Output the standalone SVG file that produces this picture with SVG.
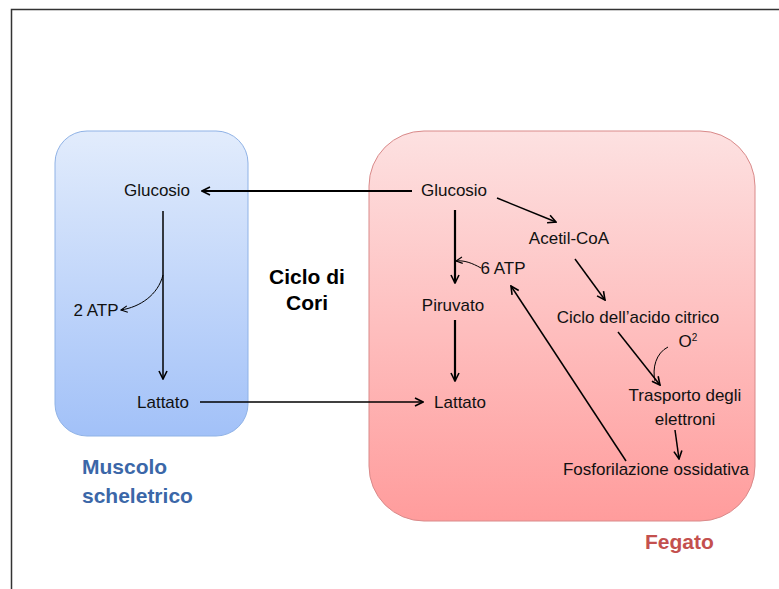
<svg xmlns="http://www.w3.org/2000/svg" width="779" height="589" viewBox="0 0 779 589">
<defs>
<linearGradient id="gBlue" x1="0" y1="0" x2="0" y2="1"><stop offset="0" stop-color="#e2ecfc"/><stop offset="1" stop-color="#a2c1f8"/></linearGradient>
<linearGradient id="gRed" x1="0" y1="0" x2="0" y2="1"><stop offset="0" stop-color="#fde1e1"/><stop offset="1" stop-color="#ff9c9c"/></linearGradient>
<marker id="ah" viewBox="0 0 10 10" refX="9" refY="5" markerWidth="10" markerHeight="10" markerUnits="userSpaceOnUse" orient="auto"><path d="M1,1 L9,5 L1,9" fill="none" stroke="#000" stroke-width="1.6"/></marker>
<marker id="ahs" viewBox="0 0 10 10" refX="9" refY="5" markerWidth="8" markerHeight="8" markerUnits="userSpaceOnUse" orient="auto"><path d="M1,1 L9,5 L1,9" fill="none" stroke="#000" stroke-width="1.4"/></marker>
</defs>
<style>
.t{font-family:"Liberation Sans",Arial,sans-serif;font-size:17px;fill:#111;text-anchor:middle}
.c{fill:none;stroke:#000;stroke-width:1.5}
.k{stroke-width:2.2}
.f{stroke-width:1}
.lbl{font-family:"Liberation Sans",Arial,sans-serif;font-weight:bold;font-size:21px}
</style>
<rect width="779" height="589" fill="#fff"/>
<path d="M11.5,589 V9.5 H779" fill="none" stroke="#333" stroke-width="1.5"/>
<g id="muscolo">
<rect x="55" y="131" width="193" height="305" rx="32" fill="url(#gBlue)" stroke="#8fb2e6" stroke-width="1"/>
</g>
<g id="fegato">
<rect x="369" y="131" width="386" height="390" rx="55" fill="url(#gRed)" stroke="#d98a8a" stroke-width="1"/>
</g>
<g id="connectors">
<line class="c k" x1="412" y1="191" x2="202" y2="191" marker-end="url(#ah)"/>
<line class="c" x1="163" y1="211" x2="163" y2="379" marker-end="url(#ah)"/>
<path class="c f" d="M163,275 C158,295 140,307 121,310" marker-end="url(#ahs)"/>
<line class="c" x1="200" y1="402" x2="423" y2="402" marker-end="url(#ah)"/>
<line class="c k" x1="455" y1="210" x2="455" y2="283" marker-end="url(#ah)"/>
<path class="c f" d="M481,268 C472,263 464,260 456,261" marker-end="url(#ahs)"/>
<line class="c k" x1="455" y1="320" x2="455" y2="381" marker-end="url(#ah)"/>
<line class="c" x1="497" y1="198" x2="556" y2="222" marker-end="url(#ah)"/>
<line class="c" x1="575" y1="259" x2="605" y2="300" marker-end="url(#ah)"/>
<line class="c" x1="618" y1="332" x2="660" y2="385" marker-end="url(#ah)"/>
<path class="c f" d="M668,347 C656,353 652,368 655,381"/>
<line class="c" x1="675" y1="430" x2="679" y2="459" marker-end="url(#ah)"/>
<line class="c" x1="626" y1="461" x2="511" y2="286" marker-end="url(#ah)"/>
</g>
<g id="n-glucosio-m"><text class="t" x="157" y="196">Glucosio</text></g>
<g id="n-2atp"><text class="t" x="96" y="316">2 ATP</text></g>
<g id="n-lattato-m"><text class="t" x="163" y="408">Lattato</text></g>
<g id="n-cori"><text class="lbl" x="307" y="284" text-anchor="middle" fill="#000" font-size="20">Ciclo di</text><text class="lbl" x="307" y="310" text-anchor="middle" fill="#000" font-size="20">Cori</text></g>
<g id="n-glucosio-f"><text class="t" x="454" y="196">Glucosio</text></g>
<g id="n-acetil"><text class="t" x="569" y="244">Acetil-CoA</text></g>
<g id="n-6atp"><text class="t" x="503" y="274">6 ATP</text></g>
<g id="n-piruvato"><text class="t" x="453" y="311">Piruvato</text></g>
<g id="n-ciclo"><text class="t" x="638" y="323">Ciclo dell’acido citrico</text></g>
<g id="n-o2"><text class="t" x="688" y="347">O<tspan font-size="10" dy="-6">2</tspan></text></g>
<g id="n-trasporto"><text class="t" x="685" y="401">Trasporto degli</text><text class="t" x="685" y="425">elettroni</text></g>
<g id="n-fosfo"><text class="t" x="656" y="475">Fosforilazione ossidativa</text></g>
<g id="n-lattato-f"><text class="t" x="460" y="408">Lattato</text></g>
<g id="lbl-muscolo"><text class="lbl" x="82" y="474" fill="#3b67a8">Muscolo</text><text class="lbl" x="82" y="503" fill="#3b67a8">scheletrico</text></g>
<g id="lbl-fegato"><text class="lbl" x="645" y="549" fill="#c4504e">Fegato</text></g>
</svg>
